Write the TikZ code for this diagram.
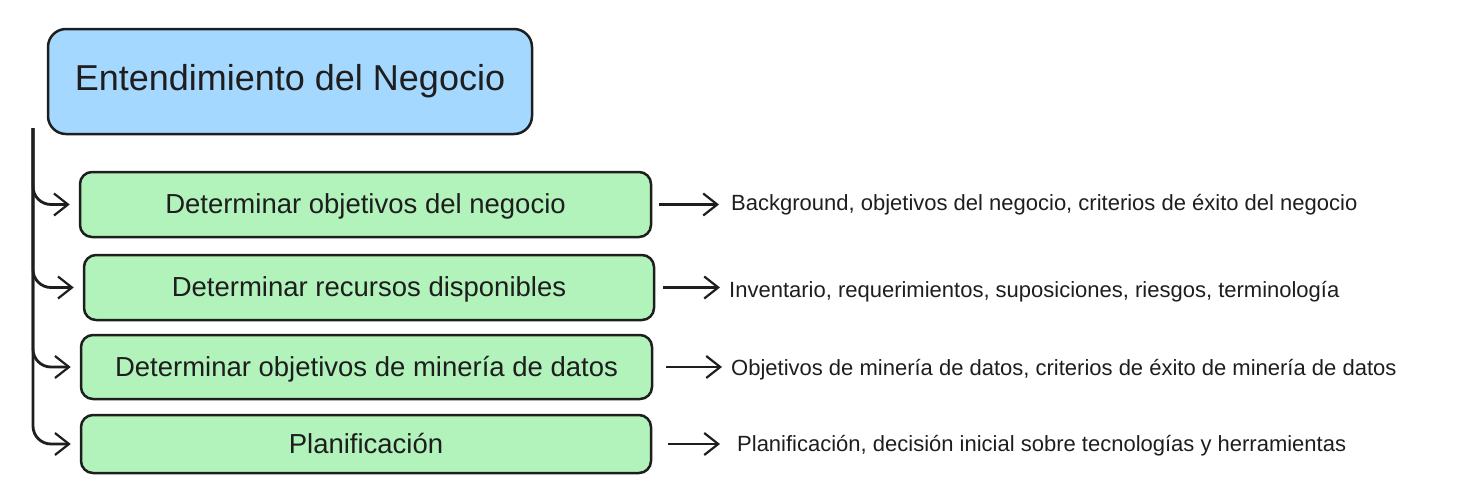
\documentclass[tikz,border=0pt]{standalone}
\usepackage{fontspec}
\setmainfont{Liberation Sans}
\usetikzlibrary{arrows.meta}
\definecolor{bluefill}{HTML}{A5D8FF}
\definecolor{greenfill}{HTML}{B2F2BB}
\definecolor{ink}{HTML}{1E1E1E}
\tikzset{
  titlebox/.style={draw=ink, fill=bluefill, line width=2.5pt, rounded corners=18pt,
    minimum width=484pt, minimum height=105pt, inner sep=0pt,
    font=\fontsize{36}{40}\selectfont, text=ink},
  stepbox/.style={draw=ink, fill=greenfill, line width=2.5pt, rounded corners=12pt,
    inner sep=0pt, text height=20pt, text depth=2pt,
    font=\fontsize{27.5}{31}\selectfont, text=ink},
  outtext/.style={anchor=west, inner sep=0pt, font=\fontsize{22}{26}\selectfont, text=ink},
  conn/.style={draw=ink, line width=2.2pt, -{Straight Barb[length=14pt,width=22pt,line width=2.2pt]}},
  trunkconn/.style={conn, line width=2.8pt, rounded corners=18pt, shorten >=9pt}
}
\begin{document}
\begin{tikzpicture}[x=1pt,y=-1pt]
\useasboundingbox (0,0) rectangle (1465,501);
\node[titlebox] (title) at (290,81.5) {Entendimiento del Negocio};
\node[stepbox, minimum width=571pt, minimum height=65pt] (g1) at (365.5,204.5) {Determinar objetivos del negocio};
\node[stepbox, minimum width=570pt, minimum height=65pt] (g2) at (369,287.5) {Determinar recursos disponibles};
\node[stepbox, minimum width=571pt, minimum height=64pt] (g3) at (366.5,367) {Determinar objetivos de minería de datos};
\node[stepbox, minimum width=570pt, minimum height=58pt] (g4) at (366,444) {Planificación};

\node[outtext] (o1) at (731,205) {Background, objetivos del negocio, criterios de éxito del negocio};
\node[outtext] (o2) at (729,292) {Inventario, requerimientos, suposiciones, riesgos, terminología};
\node[outtext] (o3) at (731,370) {Objetivos de minería de datos, criterios de éxito de minería de datos};
\node[outtext] (o4) at (737,446) {Planificación, decisión inicial sobre tecnologías y herramientas};

\coordinate (trunk) at (33,128);
\draw[trunkconn] (trunk) |- (g1.west);
\draw[trunkconn] (trunk) |- (g2.west);
\draw[trunkconn] (trunk) |- (g3.west);
\draw[trunkconn] (trunk) |- (g4.west);

\draw[conn, shorten <=7pt, shorten >=12pt] (g1.east) -- (o1.west |- g1.east);
\draw[conn, shorten <=8pt, shorten >=9pt] (g2.east) -- (o2.west |- g2.east);
\draw[conn, shorten <=13pt, shorten >=9pt] (g3.east) -- (o3.west |- g3.east);
\draw[conn, shorten <=16pt, shorten >=17pt] (g4.east) -- (o4.west |- g4.east);
\end{tikzpicture}
\end{document}
